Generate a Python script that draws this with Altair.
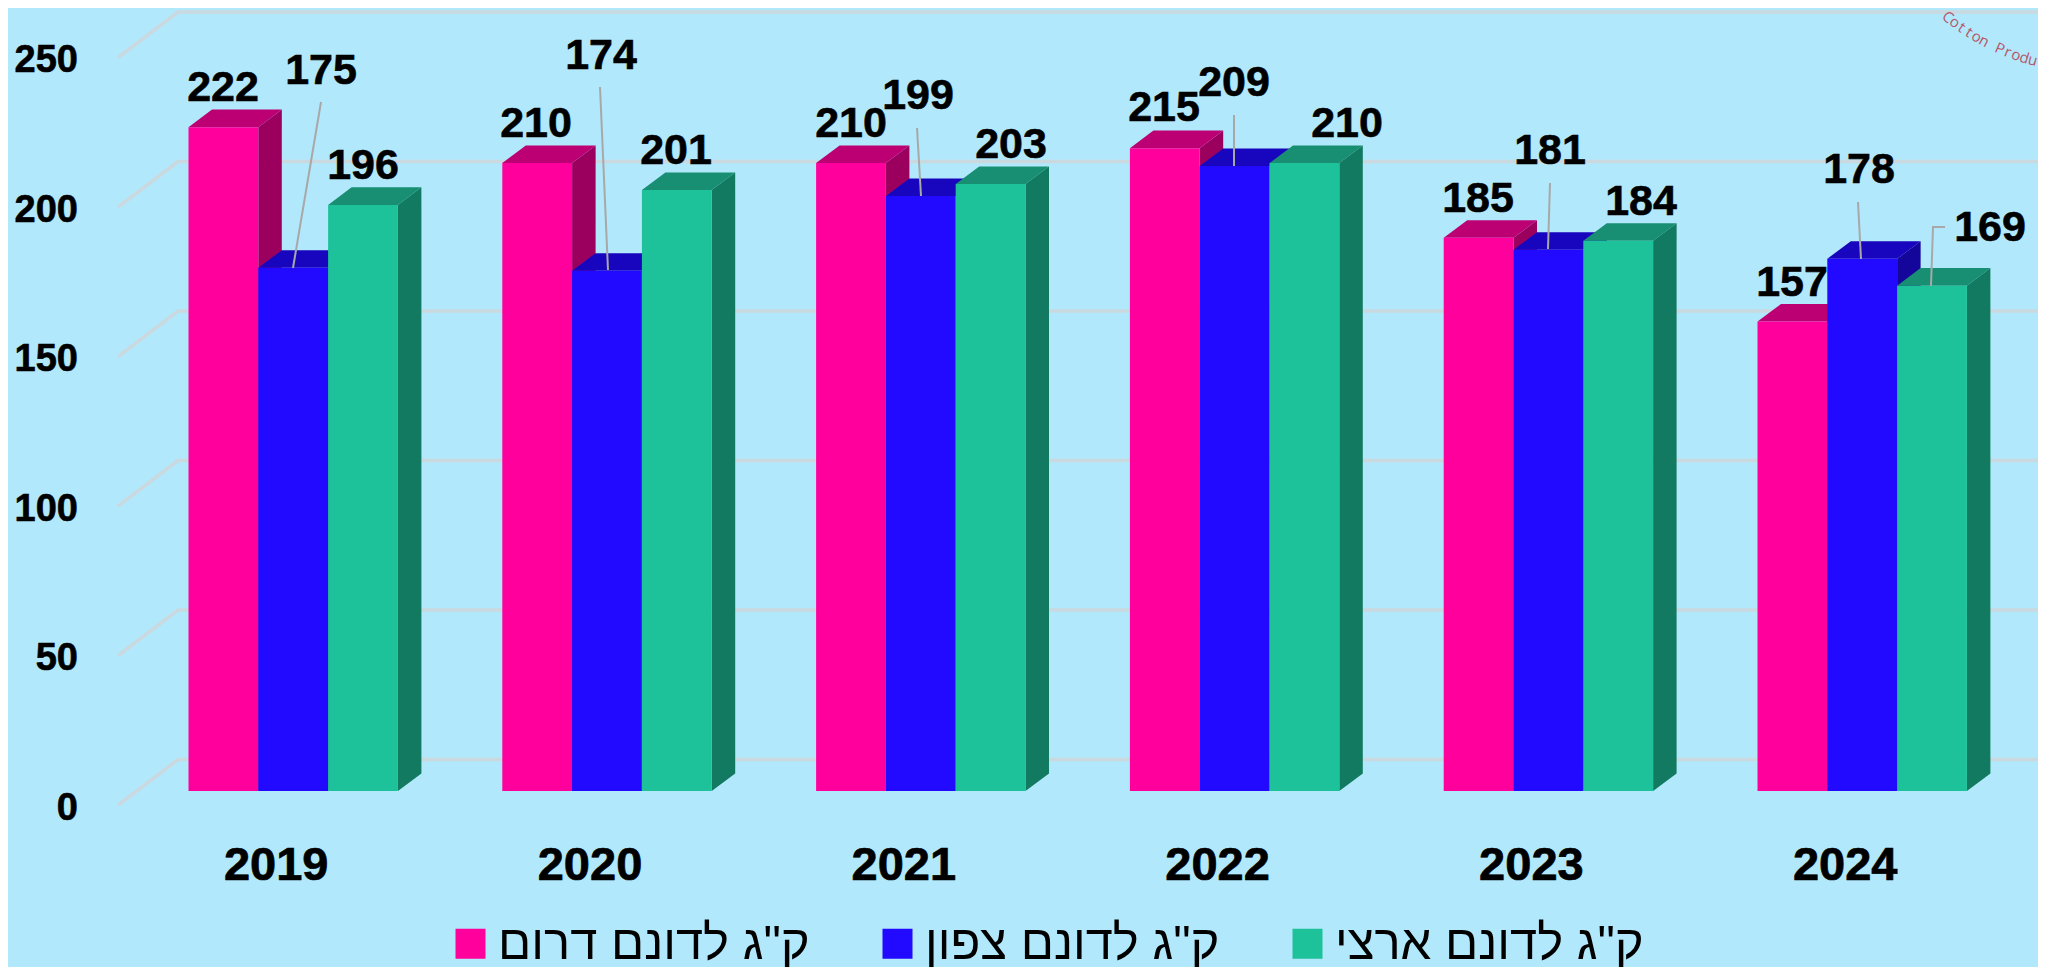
import math
import altair as alt
import pandas as pd

# ---- values ----
years = ["2019", "2020", "2021", "2022", "2023", "2024"]
south = [222, 210, 210, 215, 185, 157]
north = [175, 174, 199, 209, 181, 178]
national = [196, 201, 203, 210, 184, 169]
series_names = ['ק"ג לדונם דרום', 'ק"ג לדונם צפון', 'ק"ג לדונם ארצי']
y_ticks = [0, 50, 100, 150, 200, 250]
watermark = "Cotton Produ"

# ---- styles ----
front_colors = ["#FF009D", "#210AFF", "#1EC29A"]
top_colors = ["#BC0074", "#1806BE", "#188E72"]
side_colors = ["#9B005F", "#14059B", "#127A60"]
BG = "#B2E8FB"
GRID = "#CAD8E0"
LEADER = "#A8A8A8"
FONT = "Liberation Sans"

# ---- layout (page pixels -> data units) ----
W, H = 2030, 959
X0_PX, GROUP_PX, BY_PX, UNIT_PX = 188.5, 313.8, 791.0, 2.99
BAR = 69.8 / GROUP_PX
DEPTH_X = 23.5 / GROUP_PX
DEPTH_Y = 17.6 / UNIT_PX


def ux(px):
    return (px - X0_PX) / GROUP_PX


def uy(py):
    return (BY_PX - py) / UNIT_PX


xs = alt.Scale(domain=[ux(8), ux(8 + W)], nice=False, zero=False)
ys = alt.Scale(domain=[uy(8 + H), uy(8)], nice=False, zero=False)
X = alt.X("x:Q", scale=xs, axis=None)
Y = alt.Y("y:Q", scale=ys, axis=None)
Y2 = alt.Y2("y2:Q")

layers = []

# grid: side wall + back wall
rows = []
for t in y_ticks:
    for px, off in [(118, -4.7), (178, 10.5), (2046, 10.5)]:
        rows.append({"x": ux(px), "y": t + off, "t": t})
layers.append(
    alt.Chart(pd.DataFrame(rows))
    .mark_line(color=GRID, strokeWidth=3.5, clip=True)
    .encode(x=X, y=Y, detail="t:N")
)

# 3D bars
for s, vals in enumerate([south, north, national]):
    side, top, front = [], [], []
    for g, v in enumerate(vals):
        x0 = g + s * BAR
        x1 = x0 + BAR
        side += [
            {"x": x1, "y": 0, "y2": v, "g": g},
            {"x": x1 + DEPTH_X, "y": DEPTH_Y, "y2": v + DEPTH_Y, "g": g},
        ]
        top += [
            {"x": x0, "y": v, "y2": v, "g": g},
            {"x": x0 + DEPTH_X, "y": v, "y2": v + DEPTH_Y, "g": g},
            {"x": x1, "y": v, "y2": v + DEPTH_Y, "g": g},
            {"x": x1 + DEPTH_X, "y": v + DEPTH_Y, "y2": v + DEPTH_Y, "g": g},
        ]
        front.append({"x": x0, "x2": x1, "y": 0, "y2": v, "series": series_names[s]})
    layers.append(
        alt.Chart(pd.DataFrame(side))
        .mark_area(color=side_colors[s], orient="vertical")
        .encode(x=X, y=Y, y2=Y2, detail="g:N")
    )
    layers.append(
        alt.Chart(pd.DataFrame(top))
        .mark_area(color=top_colors[s], orient="vertical")
        .encode(x=X, y=Y, y2=Y2, detail="g:N")
    )
    layers.append(
        alt.Chart(pd.DataFrame(front))
        .mark_rect()
        .encode(
            x=X,
            x2=alt.X2("x2:Q"),
            y=Y,
            y2=Y2,
            color=alt.Color(
                "series:N",
                scale=alt.Scale(domain=series_names, range=front_colors),
                legend=alt.Legend(
                    title=None,
                    orient="none",
                    direction="horizontal",
                    columns=3,
                    legendX=438,
                    legendY=911,
                    padding=0,
                    symbolType="square",
                    symbolSize=900,
                    symbolStrokeWidth=0,
                    symbolOpacity=1,
                    labelFont=FONT,
                    labelFontSize=49,
                    labelColor="#000000",
                    labelOffset=3,
                    columnPadding=63,
                    labelLimit=600,
                ),
            ),
        )
    )

# leader lines: (value-label anchors, in page pixels)
leaders = [
    [(321, 102), (293, 268)],
    [(600, 87), (608, 270)],
    [(917, 128), (921, 196)],
    [(1234, 115), (1234, 166)],
    [(1550, 183), (1548, 249)],
    [(1858, 202), (1861, 259)],
    [(1945, 227), (1933, 227), (1931, 286)],
]
rows = []
for i, pts in enumerate(leaders):
    for j, (px, py) in enumerate(pts):
        rows.append({"x": ux(px), "y": uy(py), "l": i, "o": j})
layers.append(
    alt.Chart(pd.DataFrame(rows))
    .mark_line(color=LEADER, strokeWidth=2)
    .encode(x=X, y=Y, detail="l:N", order="o:O")
)

# value labels
label_px = [
    [(223, 88), (536, 124), (851, 124), (1164, 108), (1478, 199), (1792, 283)],
    [(321, 71), (601, 56), (918, 96), (1234, 83), (1550, 151), (1859, 170)],
    [(363, 166), (676, 151), (1011, 145), (1347, 124), (1641, 202), (1990, 228)],
]
rows = []
for vals, pos in zip([south, north, national], label_px):
    for v, (px, py) in zip(vals, pos):
        rows.append({"x": ux(px), "y": uy(py), "t": str(v)})
layers.append(
    alt.Chart(pd.DataFrame(rows))
    .mark_text(font=FONT, fontWeight="bold", fontSize=43, color="#000000", stroke="#000000", strokeWidth=0.6, baseline="middle")
    .encode(x=X, y=Y, text="t:N")
)

# y tick labels
layers.append(
    alt.Chart(pd.DataFrame({"x": [ux(78)] * len(y_ticks), "y": [t - 5.9 for t in y_ticks], "t": [str(t) for t in y_ticks]}))
    .mark_text(font=FONT, fontWeight="bold", fontSize=38, color="#000000", stroke="#000000", strokeWidth=0.6, align="right", baseline="middle")
    .encode(x=X, y=Y, text="t:N")
)

# year labels
layers.append(
    alt.Chart(pd.DataFrame({"x": [g + 1.5 * BAR - 17 / GROUP_PX for g in range(len(years))], "y": [uy(865.5)] * len(years), "t": years}))
    .mark_text(font=FONT, fontWeight="bold", fontSize=47, color="#000000", stroke="#000000", strokeWidth=0.7, baseline="middle")
    .encode(x=X, y=Y, text="t:N")
)

# curved watermark, top right
R, CX, CY = 229, 2092, -161
rows = []
n = len(watermark)
for i, ch in enumerate(watermark):
    th = 39 - (39 - 15) * i / (n - 1)
    r = math.radians(th)
    rows.append({"x": ux(CX - R * math.sin(r)), "y": uy(CY + R * math.cos(r)), "t": ch, "a": th})
layers.append(
    alt.Chart(pd.DataFrame([r for r in rows if r["t"] != " "]))
    .mark_text(font="Open Sans", fontSize=15, color="#B5566B", baseline="middle")
    .encode(x=X, y=Y, text="t:N", angle=alt.Angle("a:Q", scale=None))
)

chart = (
    alt.layer(*layers)
    .properties(
        width=W,
        height=H,
        background=BG,
        padding=0,
        autosize=alt.AutoSizeParams(type="none"),
    )
    .configure_view(stroke=None)
)

chart.save("out.html", embed_options={"renderer": "svg", "actions": False})
